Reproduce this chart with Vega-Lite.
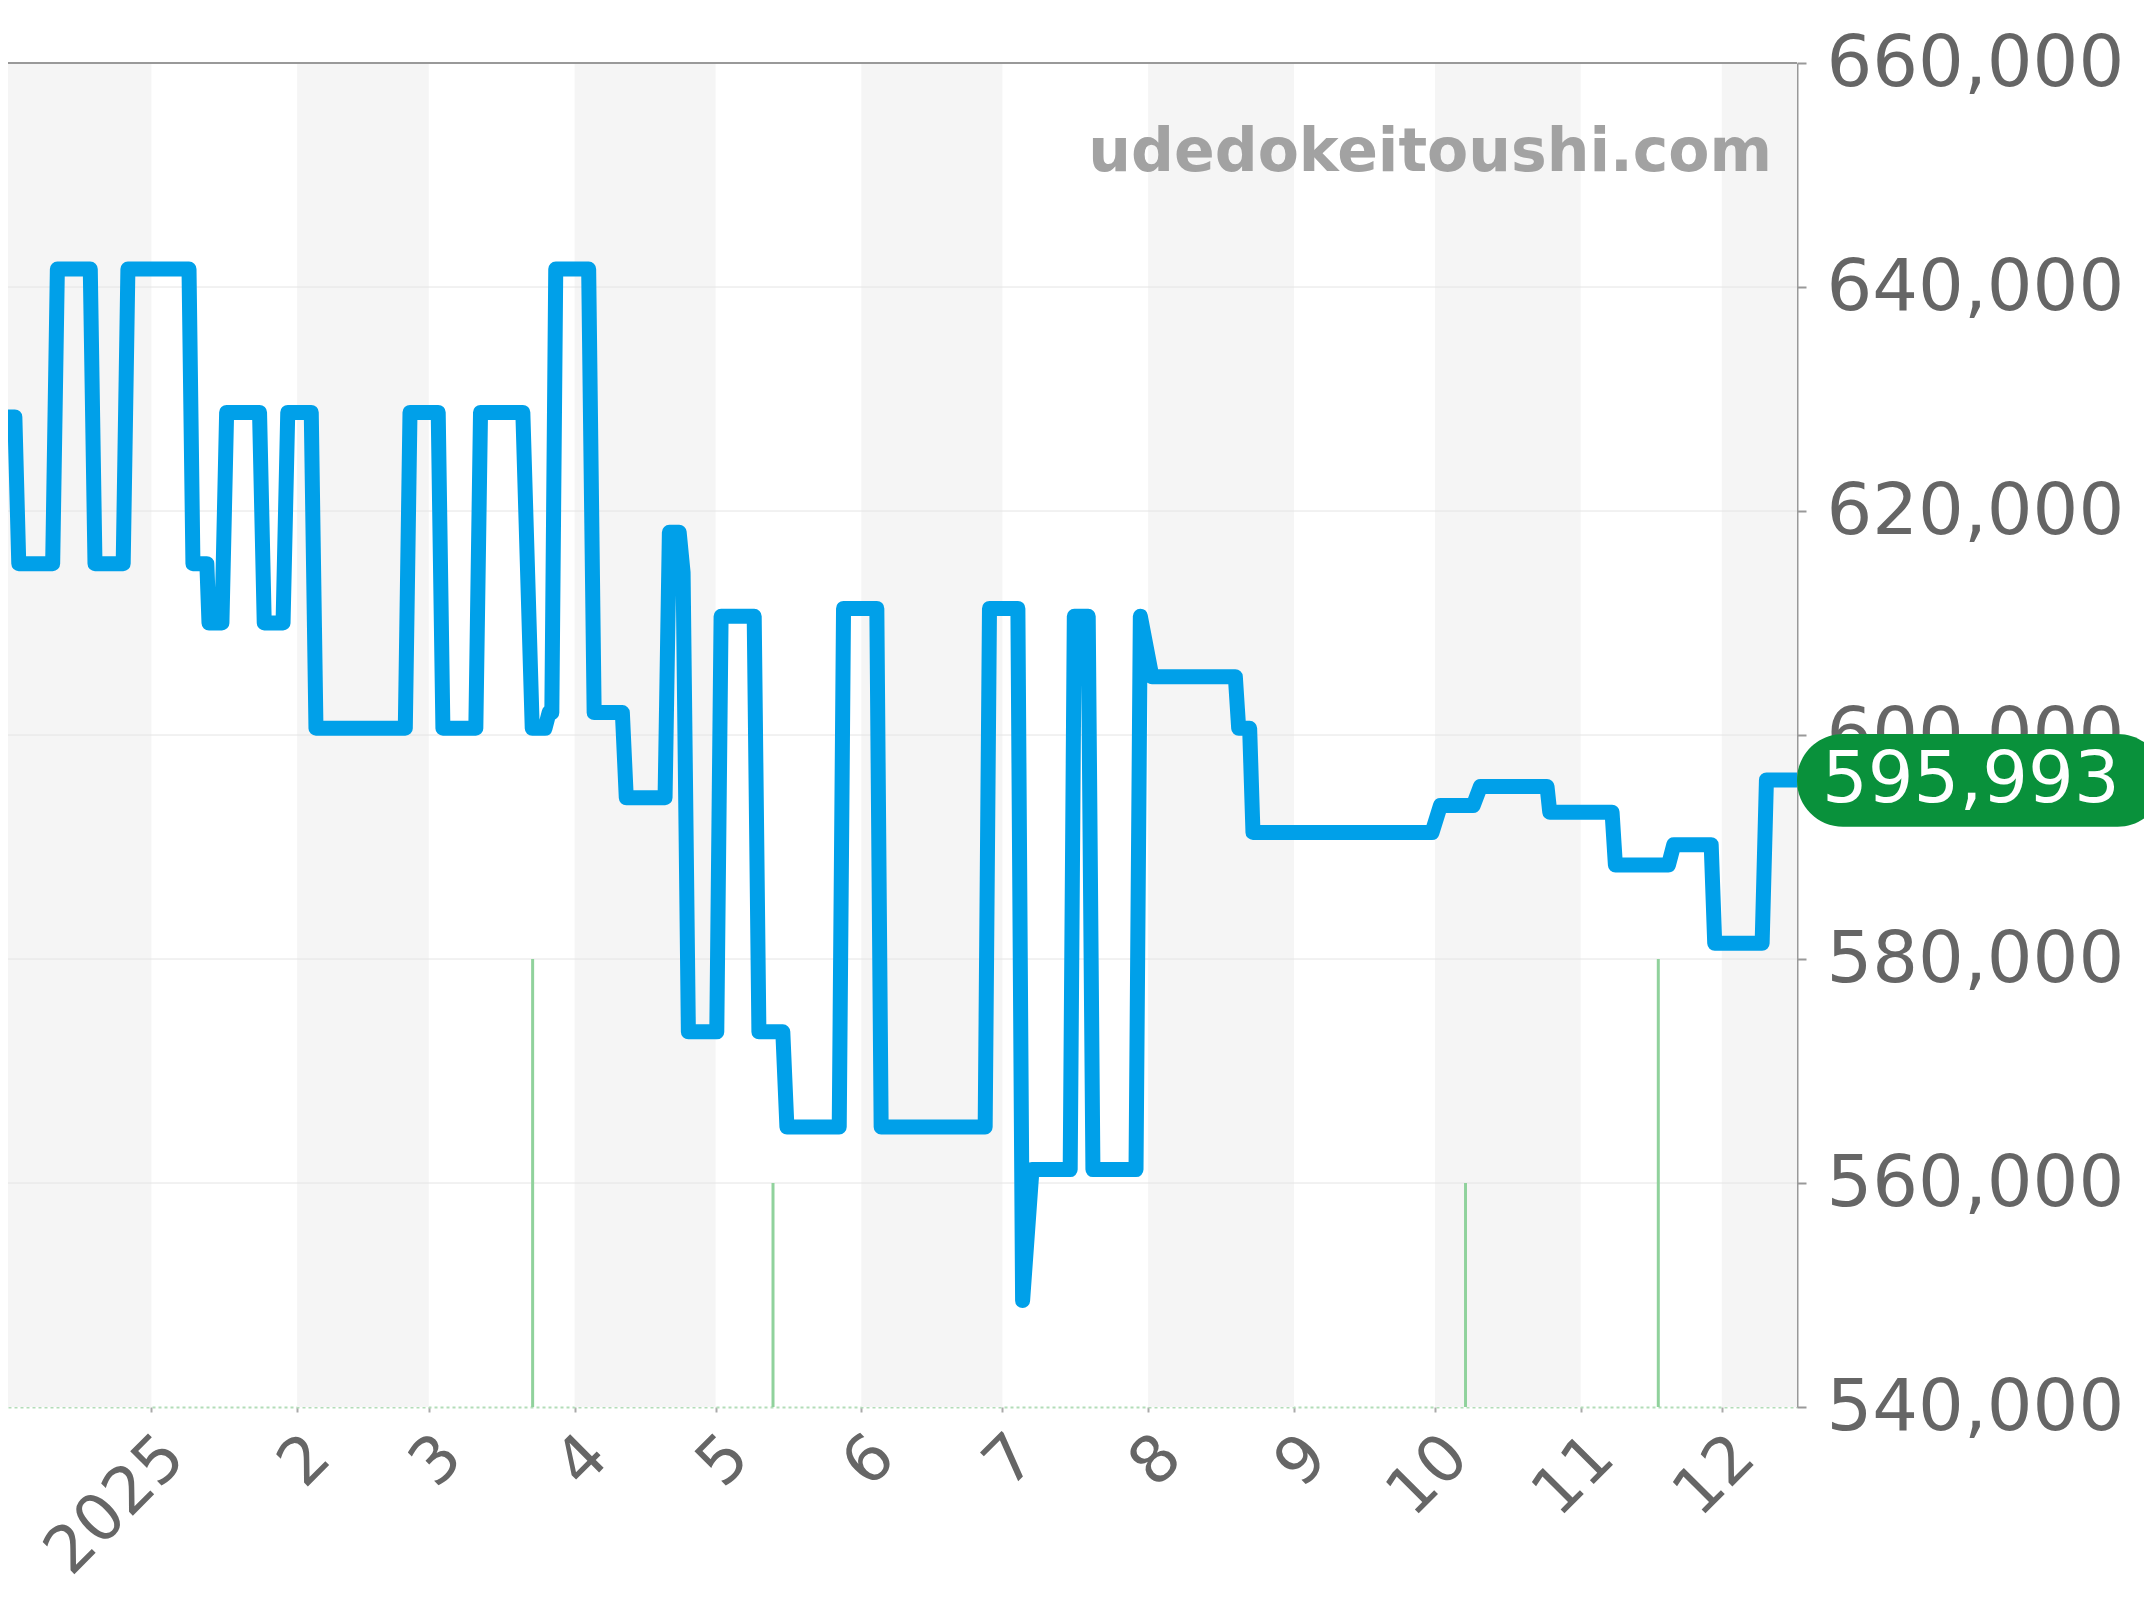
{
  "$schema": "https://vega.github.io/schema/vega-lite/v6.json",
  "autosize": "none",
  "width": 1789,
  "height": 1344,
  "padding": {"left": 8, "top": 63, "right": 347, "bottom": 193},
  "background": "#ffffff",
  "config": {"view": {"stroke": null}, "font": "DejaVu Sans"},
  "layer": [
    {
      "data": {"values": [
        {"s": "2024-11-20T00:00", "e": "2025-01-01T00:00"},
        {"s": "2025-02-01T00:00", "e": "2025-03-01T00:00"},
        {"s": "2025-04-01T00:00", "e": "2025-05-01T00:00"},
        {"s": "2025-06-01T00:00", "e": "2025-07-01T00:00"},
        {"s": "2025-08-01T00:00", "e": "2025-09-01T00:00"},
        {"s": "2025-10-01T00:00", "e": "2025-11-01T00:00"},
        {"s": "2025-12-01T00:00", "e": "2026-01-01T00:00"}
      ]},
      "mark": {"type": "rect", "color": "#f5f5f5", "clip": true},
      "encoding": {
        "x": {
          "field": "s", "type": "temporal", "title": null,
          "scale": {"domain": [{"year": 2024, "month": 12, "date": 1, "hours": 12}, {"year": 2025, "month": 12, "date": 17}]},
          "axis": {
            "orient": "bottom",
            "tickCount": {"interval": "month", "step": 1},
            "labelExpr": "month(datum.value) === 0 ? timeFormat(datum.value, '%Y') : '' + (month(datum.value) + 1)",
            "labelAngle": -45,
            "labelAlign": "right",
            "labelBaseline": "top",
            "labelFontSize": 65,
            "labelFont": "DejaVu Sans",
            "labelColor": "#666666",
            "labelPadding": 12,
            "labelFlush": false,
            "labelOverlap": false,
            "labelLimit": 400,
            "tickSize": 5,
            "tickWidth": 2,
            "tickColor": "#aaaaaa",
            "domainColor": "#b3ddb9",
            "domainDash": [3, 3],
            "domainWidth": 2,
            "grid": false,
            "title": null
          }
        },
        "x2": {"field": "e"}
      }
    },
    {
      "data": {"values": [
        {"g": 560000}, {"g": 580000}, {"g": 600000}, {"g": 620000}, {"g": 640000}
      ]},
      "mark": {"type": "rule", "color": "#e4e4e4", "strokeWidth": 1},
      "encoding": {
        "y": {
          "field": "g", "type": "quantitative", "title": null,
          "scale": {"domain": [540000, 660000], "nice": false, "zero": false},
          "axis": {
            "orient": "right",
            "values": [540000, 560000, 580000, 600000, 620000, 640000, 660000],
            "format": ",.0f",
            "labelFontSize": 72,
            "labelFont": "DejaVu Sans",
            "labelColor": "#666666",
            "labelPadding": 20,
            "labelLimit": 500,
            "tickSize": 9,
            "tickWidth": 2,
            "tickColor": "#999999",
            "domainColor": "#999999",
            "domainWidth": 2,
            "grid": false,
            "title": null
          }
        }
      }
    },
    {
      "data": {"values": [{"g": 660000}]},
      "mark": {"type": "rule", "color": "#999999", "strokeWidth": 2},
      "encoding": {"y": {"field": "g", "type": "quantitative", "title": null}}
    },
    {
      "data": {"values": [
        {"d": "2025-03-23T02:00", "lo": 540000, "hi": 580000},
        {"d": "2025-05-13T05:00", "lo": 540000, "hi": 560000},
        {"d": "2025-10-07T12:00", "lo": 540000, "hi": 560000},
        {"d": "2025-11-17T12:00", "lo": 540000, "hi": 580000}
      ]},
      "mark": {"type": "rule", "color": "#90d29c", "strokeWidth": 3},
      "encoding": {
        "x": {"field": "d", "type": "temporal", "title": null},
        "y": {"field": "lo", "type": "quantitative", "title": null},
        "y2": {"field": "hi"}
      }
    },
    {
      "data": {"values": [
        {"d": "2024-12-01T12:00", "v": 628400},
        {"d": "2024-12-02T23:00", "v": 628400},
        {"d": "2024-12-03T19:00", "v": 615300},
        {"d": "2024-12-11T00:00", "v": 615300},
        {"d": "2024-12-12T00:00", "v": 641600},
        {"d": "2024-12-19T00:00", "v": 641600},
        {"d": "2024-12-20T00:00", "v": 615300},
        {"d": "2024-12-26T00:00", "v": 615300},
        {"d": "2024-12-27T00:00", "v": 641600},
        {"d": "2025-01-09T00:00", "v": 641600},
        {"d": "2025-01-09T20:00", "v": 615300},
        {"d": "2025-01-12T19:00", "v": 615300},
        {"d": "2025-01-13T06:00", "v": 610000},
        {"d": "2025-01-16T00:00", "v": 610000},
        {"d": "2025-01-17T00:00", "v": 628800},
        {"d": "2025-01-24T00:00", "v": 628800},
        {"d": "2025-01-25T00:00", "v": 610000},
        {"d": "2025-01-29T00:00", "v": 610000},
        {"d": "2025-01-30T00:00", "v": 628800},
        {"d": "2025-02-04T00:00", "v": 628800},
        {"d": "2025-02-05T00:00", "v": 600600},
        {"d": "2025-02-24T00:00", "v": 600600},
        {"d": "2025-02-25T00:00", "v": 628800},
        {"d": "2025-03-03T00:00", "v": 628800},
        {"d": "2025-03-04T00:00", "v": 600600},
        {"d": "2025-03-11T00:00", "v": 600600},
        {"d": "2025-03-12T00:00", "v": 628800},
        {"d": "2025-03-21T00:00", "v": 628800},
        {"d": "2025-03-23T00:00", "v": 600600},
        {"d": "2025-03-25T17:00", "v": 600600},
        {"d": "2025-03-26T14:00", "v": 602000},
        {"d": "2025-03-27T04:00", "v": 602000},
        {"d": "2025-03-28T00:00", "v": 641600},
        {"d": "2025-04-04T00:00", "v": 641600},
        {"d": "2025-04-05T04:00", "v": 602000},
        {"d": "2025-04-11T04:00", "v": 602000},
        {"d": "2025-04-12T00:00", "v": 594400},
        {"d": "2025-04-20T06:00", "v": 594400},
        {"d": "2025-04-21T04:00", "v": 618100},
        {"d": "2025-04-23T06:00", "v": 618100},
        {"d": "2025-04-24T02:00", "v": 614500},
        {"d": "2025-04-25T05:00", "v": 573500},
        {"d": "2025-05-01T06:00", "v": 573500},
        {"d": "2025-05-02T04:00", "v": 610600},
        {"d": "2025-05-09T05:00", "v": 610600},
        {"d": "2025-05-10T05:00", "v": 573500},
        {"d": "2025-05-15T07:00", "v": 573500},
        {"d": "2025-05-16T04:00", "v": 565000},
        {"d": "2025-05-27T07:00", "v": 565000},
        {"d": "2025-05-28T05:00", "v": 611300},
        {"d": "2025-06-04T07:00", "v": 611300},
        {"d": "2025-06-05T05:00", "v": 565000},
        {"d": "2025-06-27T08:00", "v": 565000},
        {"d": "2025-06-28T06:00", "v": 611300},
        {"d": "2025-07-04T07:00", "v": 611300},
        {"d": "2025-07-05T07:00", "v": 549500},
        {"d": "2025-07-07T07:00", "v": 561200},
        {"d": "2025-07-15T10:00", "v": 561200},
        {"d": "2025-07-16T07:00", "v": 610600},
        {"d": "2025-07-19T06:00", "v": 610600},
        {"d": "2025-07-20T06:00", "v": 561200},
        {"d": "2025-07-29T10:00", "v": 561200},
        {"d": "2025-07-30T08:00", "v": 610600},
        {"d": "2025-08-01T19:00", "v": 605200},
        {"d": "2025-08-19T13:00", "v": 605200},
        {"d": "2025-08-20T06:00", "v": 600600},
        {"d": "2025-08-22T14:00", "v": 600600},
        {"d": "2025-08-23T07:00", "v": 591300},
        {"d": "2025-09-30T09:00", "v": 591300},
        {"d": "2025-10-02T04:00", "v": 593700},
        {"d": "2025-10-09T03:00", "v": 593700},
        {"d": "2025-10-10T16:00", "v": 595400},
        {"d": "2025-10-24T20:00", "v": 595400},
        {"d": "2025-10-25T10:00", "v": 593100},
        {"d": "2025-11-07T16:00", "v": 593100},
        {"d": "2025-11-08T09:00", "v": 588400},
        {"d": "2025-11-19T16:00", "v": 588400},
        {"d": "2025-11-20T19:00", "v": 590200},
        {"d": "2025-11-28T18:00", "v": 590200},
        {"d": "2025-11-29T12:00", "v": 581400},
        {"d": "2025-12-09T14:00", "v": 581400},
        {"d": "2025-12-10T12:00", "v": 595993},
        {"d": "2025-12-17T00:00", "v": 595993}
      ]},
      "mark": {"type": "line", "color": "#00a0e9", "strokeWidth": 15, "strokeJoin": "round", "strokeCap": "round", "clip": true},
      "encoding": {
        "x": {"field": "d", "type": "temporal", "title": null},
        "y": {"field": "v", "type": "quantitative", "title": null}
      }
    },
    {
      "data": {"values": [{"d": "2025-12-11T17:00", "v": 650360, "t": "udedokeitoushi.com"}]},
      "mark": {"type": "text", "align": "right", "baseline": "alphabetic", "font": "DejaVu Sans", "fontWeight": "bold", "fontSize": 60, "color": "#a2a2a2"},
      "encoding": {
        "x": {"field": "d", "type": "temporal", "title": null},
        "y": {"field": "v", "type": "quantitative", "title": null},
        "text": {"field": "t"}
      }
    },
    {
      "data": {"values": [{"d1": "2025-12-17T00:00", "d2": "2026-03-05T00:00", "v1": 600100, "v2": 591800}]},
      "mark": {"type": "rect", "color": "#09913b", "cornerRadius": 46},
      "encoding": {
        "x": {"field": "d1", "type": "temporal", "title": null},
        "x2": {"field": "d2"},
        "y": {"field": "v1", "type": "quantitative", "title": null},
        "y2": {"field": "v2"}
      }
    },
    {
      "data": {"values": [{"d": "2025-12-17T00:00", "v": 595993, "t": "595,993"}]},
      "mark": {"type": "text", "align": "left", "baseline": "middle", "dx": 25, "font": "DejaVu Sans", "fontSize": 72, "color": "#ffffff"},
      "encoding": {
        "x": {"field": "d", "type": "temporal", "title": null},
        "y": {"field": "v", "type": "quantitative", "title": null},
        "text": {"field": "t"}
      }
    }
  ]
}
